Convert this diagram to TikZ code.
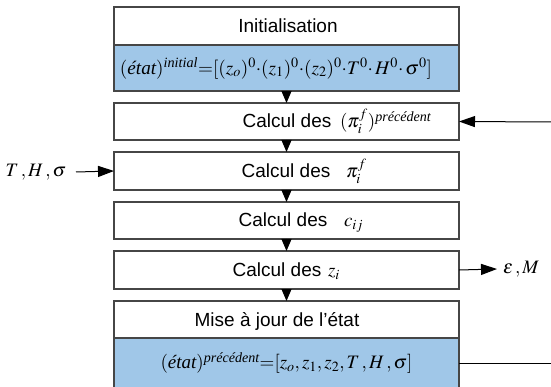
\documentclass[tikz,border=0pt]{standalone}
\usepackage{mathptmx}
\usepackage{amsmath}
\usepackage{fontspec}
\setmainfont{Liberation Sans}
\newfontfamily\serifit{Liberation Serif}
\usetikzlibrary{arrows.meta}
\definecolor{bluefill}{RGB}{160,199,232}
\definecolor{boxgray}{RGB}{70,70,70}
\newcommand{\itx}[1]{\text{\serifit\itshape #1}}
\begin{document}
\begin{tikzpicture}[x=1pt,y=-1pt,
  box/.style={draw=boxgray, line width=1.1pt, minimum width=345pt, inner sep=0pt, outer sep=0pt},
  bluebox/.style={box, fill=bluefill},
  lbl/.style={font=\fontsize{19}{21}\selectfont, inner sep=0pt, outer sep=0pt},
  biglbl/.style={font=\fontsize{19.2}{21}\selectfont, inner sep=0pt, outer sep=0pt},
  flow/.style={-{Triangle[length=12pt,width=10pt]}, line width=1pt, black},
  side/.style={-{Triangle[length=16pt,width=11pt]}, line width=1pt, black},
  plain/.style={line width=1pt, black}
]
\useasboundingbox (0,0) rectangle (551,387);
% boxes
\node[box, minimum height=38pt] (init) at (286.5,26) {};
\node[bluebox, minimum height=46pt] (initb) at (286.5,68) {};
\node[box, minimum height=37pt] (p2) at (286.5,121.5) {};
\node[box, minimum height=38pt] (p3) at (286.5,171) {};
\node[box, minimum height=37pt] (p4) at (286.5,220.5) {};
\node[box, minimum height=38pt] (p5) at (286.5,270) {};
\node[box, minimum height=37pt] (maj) at (286.5,319.5) {};
\node[bluebox, minimum height=52pt] (majb) at (286.5,364) {};
% texts
\node[lbl, anchor=base] (tinit) at (288,32.5) {Initialisation};
\node[biglbl, anchor=center] (finit) at (276,68) {$(\itx{état})^{\itx{initial}}{=}[(z_o)^0{\cdot}(z_1)^0{\cdot}(z_2)^0{\cdot}T^0{\cdot}\,H^0{\cdot}\,\sigma^0]$};
\node[lbl, anchor=base] (t2) at (287,128) {Calcul des};
\node[lbl, anchor=base west] (m2) at (340,128) {$(\pi_i^f)^{\itx{précédent}}$};
\node[lbl, anchor=base] (t3) at (286,177.5) {Calcul des};
\node[lbl, anchor=base west] (m3) at (346,177.5) {$\pi_i^f$};
\node[lbl, anchor=base] (t4) at (283,227) {Calcul des};
\node[lbl, anchor=base west] (m4) at (344,227) {$c_{ij}$};
\node[lbl, anchor=base] (t5) at (277,276.5) {Calcul des};
\node[lbl, anchor=base west] (m5) at (328,276.5) {$z_i$};
\node[lbl, anchor=base] (tmaj) at (277,326) {Mise à jour de l'état};
\node[lbl, anchor=center] (fmaj) at (286.5,363) {$(\itx{état})^{\itx{précédent}}{=}[z_o, z_1, z_2, T\,, H\,, \sigma]$};
% side labels
\node[lbl, anchor=center] (in) at (36,172) {$T\,,H\,,\sigma$};
\node[lbl, anchor=center] (out) at (521,269) {$\varepsilon\,,M$};
\coordinate (fbin) at (551,122);
\coordinate (fbout) at (551,363);
\coordinate (inA) at (76,172);
\coordinate (outA) at (497,269);
% connectors
\draw[flow] (initb.south) -- (p2.north);
\draw[flow] (p2.south) -- (p3.north);
\draw[flow] (p3.south) -- (p4.north);
\draw[flow] (p4.south) -- (p5.north);
\draw[flow] (p5.south) -- (maj.north);
\draw[side] (fbin) -- (p2.east);
\draw[side] (inA) -- (p3.west);
\draw[side] (p5.east) -- (outA);
\draw[plain] (majb.east |- fbout) -- (fbout);
\end{tikzpicture}
\end{document}
